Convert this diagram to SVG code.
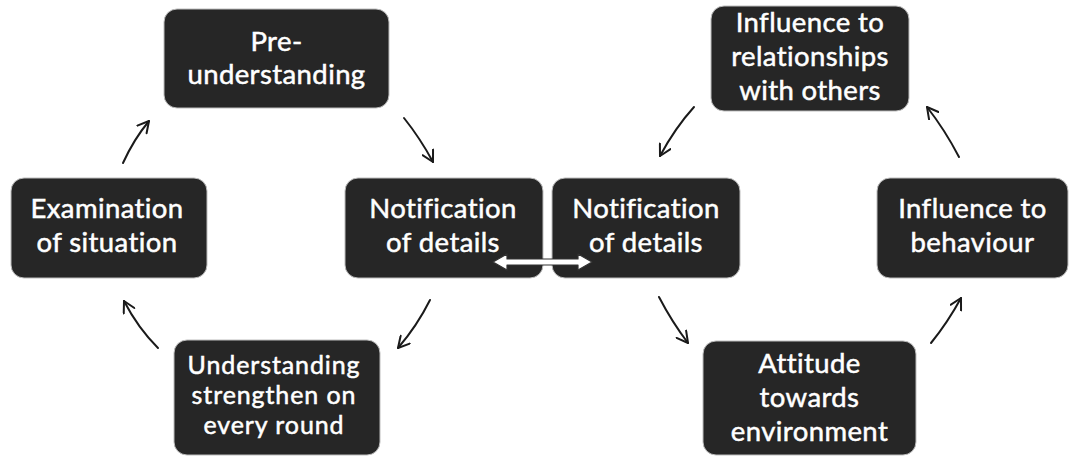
<svg xmlns="http://www.w3.org/2000/svg" width="1081" height="458" viewBox="0 0 1081 458">
<defs>
<style>
.box{fill:#262626;stroke:#bdbdbd;stroke-width:1}
.t{font-family:Lato,"Open Sans",sans-serif;fill:#ffffff;stroke:#ffffff;stroke-width:0.5;text-anchor:middle;font-size:27.5px;letter-spacing:0.4px}
.s{font-size:25px;letter-spacing:0.9px}
.c{fill:none;stroke:#1a1a1a;stroke-width:2;stroke-linecap:round}
</style>
<marker id="ah" viewBox="0 0 14 14" refX="12" refY="7" markerWidth="14" markerHeight="14" markerUnits="userSpaceOnUse" orient="auto">
<path d="M1,1 L12,7 L1,13" fill="none" stroke="#1a1a1a" stroke-width="2" stroke-linecap="round" stroke-linejoin="round"/>
</marker>
</defs>
<rect width="1081" height="458" fill="#ffffff"/>
<g id="pre-understanding">
<rect class="box" x="164" y="9" width="225" height="99" rx="13"/>
<text class="t" x="276.5" y="51">Pre-</text>
<text class="t" x="276.5" y="84">understanding</text>
</g>
<g id="examination">
<rect class="box" x="11" y="178" width="196" height="100" rx="13"/>
<text class="t" x="107" y="218">Examination</text>
<text class="t" x="107" y="252">of situation</text>
</g>
<g id="notification-left">
<rect class="box" x="345" y="178" width="198" height="100" rx="13"/>
<text class="t" x="443" y="218">Notification</text>
<text class="t" x="443" y="252">of details</text>
</g>
<g id="understanding">
<rect class="box" x="174" y="340" width="206" height="115" rx="13"/>
<text class="t s" x="274" y="374">Understanding</text>
<text class="t s" x="274" y="404">strengthen on</text>
<text class="t s" x="274" y="434">every round</text>
</g>
<g id="notification-right">
<rect class="box" x="552" y="178" width="188" height="100" rx="13"/>
<text class="t" x="646" y="218">Notification</text>
<text class="t" x="646" y="252">of details</text>
</g>
<g id="influence-relationships">
<rect class="box" x="711" y="6" width="198" height="105" rx="13"/>
<text class="t" x="810" y="32">Influence to</text>
<text class="t" x="810" y="66">relationships</text>
<text class="t" x="810" y="100">with others</text>
</g>
<g id="influence-behaviour">
<rect class="box" x="877" y="178" width="191" height="100" rx="13"/>
<text class="t" x="972.5" y="218">Influence to</text>
<text class="t" x="972.5" y="252">behaviour</text>
</g>
<g id="attitude">
<rect class="box" x="703" y="341" width="213" height="114" rx="13"/>
<text class="t" x="809.5" y="373">Attitude</text>
<text class="t" x="809.5" y="407">towards</text>
<text class="t" x="809.5" y="441">environment</text>
</g>
<g id="connectors">
<path class="c" marker-end="url(#ah)" d="M123,163 Q134,139 149,121"/>
<path class="c" marker-end="url(#ah)" d="M404,118 Q420,138 433,162"/>
<path class="c" marker-end="url(#ah)" d="M430,300 Q417,326 398,348"/>
<path class="c" marker-end="url(#ah)" d="M158,348 Q138,328 124,301"/>
<path class="c" marker-end="url(#ah)" d="M694,107 Q675,128 660,156"/>
<path class="c" marker-end="url(#ah)" d="M959,157 Q945,130 927,107"/>
<path class="c" marker-end="url(#ah)" d="M659,297 Q672,322 688,343"/>
<path class="c" marker-end="url(#ah)" d="M931,343 Q948,322 961,298"/>
<polygon points="493,262 507,254 507,259 578,259 578,254 592,262 578,270 578,265 507,265 507,270" fill="#ffffff" stroke="#333333" stroke-width="1.2" stroke-linejoin="round"/>
</g>
</svg>
